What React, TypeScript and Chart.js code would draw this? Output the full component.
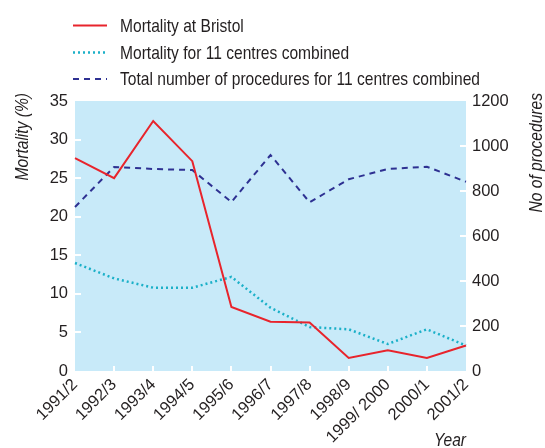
import React, { useEffect, useRef } from "react";
import { Chart, registerables } from "chart.js";

Chart.register(...registerables);

const years = ["1991/2", "1992/3", "1993/4", "1994/5", "1995/6", "1996/7", "1997/8", "1998/9", "1999/ 2000", "2000/1", "2001/2"];
const bristolMortality = [27.6, 25.0, 32.4, 27.2, 8.3, 6.4, 6.3, 1.7, 2.7, 1.7, 3.3];
const combinedMortality = [14.0, 12.0, 10.8, 10.8, 12.2, 8.2, 5.7, 5.4, 3.5, 5.4, 3.3];
const combinedProcedures = [729, 907, 898, 893, 751, 960, 750, 852, 898, 908, 841];
const mortalityTicks = [5, 10, 15, 20, 25, 30];
const procedureTicks = [200, 400, 600, 800, 1000];

const legendLabels = [
  "Mortality at Bristol",
  "Mortality for 11 centres combined",
  "Total number of procedures for 11 centres combined",
];

const FONT = '"Liberation Sans", Arial, Helvetica, sans-serif';
const TEXT = "#231f20";
const RED = "#e8242c";
const CYAN = "#1bb0c8";
const NAVY = "#2e3192";
const BG = "#c8eaf9";
const CONDENSE = 0.82;

function narrowText(ctx: CanvasRenderingContext2D, text: string, x: number, y: number, angle: number, align: CanvasTextAlign) {
  ctx.save();
  ctx.translate(x, y);
  ctx.rotate(angle);
  ctx.scale(CONDENSE, 1);
  ctx.textAlign = align;
  ctx.fillText(text, 0, 0);
  ctx.restore();
}

const decor = {
  id: "decor",
  beforeDraw(chart: any) {
    const { ctx, chartArea: a } = chart;
    ctx.save();
    ctx.fillStyle = BG;
    ctx.fillRect(a.left, a.top, a.right - a.left, a.bottom - a.top);
    ctx.restore();
  },
  beforeDatasetsDraw(chart: any) {
    const { ctx, chartArea: a, scales } = chart;
    ctx.save();
    ctx.strokeStyle = "#ffffff";
    ctx.lineWidth = 2;
    mortalityTicks.forEach((v) => {
      const y = Math.round(scales.y.getPixelForValue(v));
      ctx.beginPath();
      ctx.moveTo(a.left, y);
      ctx.lineTo(a.left + 6, y);
      ctx.stroke();
    });
    procedureTicks.forEach((v) => {
      const y = Math.round(scales.y1.getPixelForValue(v));
      ctx.beginPath();
      ctx.moveTo(a.right - 6, y);
      ctx.lineTo(a.right, y);
      ctx.stroke();
    });
    years.forEach((_, i) => {
      if (i === 0 || i === years.length - 1) return;
      const x = Math.round(scales.x.getPixelForValue(i));
      ctx.beginPath();
      ctx.moveTo(x, a.bottom - 5);
      ctx.lineTo(x, a.bottom);
      ctx.stroke();
    });
    ctx.restore();
  },
  afterDraw(chart: any) {
    const { ctx, chartArea: a } = chart;
    ctx.save();
    const styles = [
      { color: RED, dash: [] as number[], width: 2 },
      { color: CYAN, dash: [2, 3], width: 2.5 },
      { color: NAVY, dash: [6, 5], width: 2 },
    ];
    const rowsY = [25.5, 52.5, 79];
    ctx.font = `19px ${FONT}`;
    ctx.textBaseline = "middle";
    legendLabels.forEach((label, i) => {
      const s = styles[i];
      ctx.strokeStyle = s.color;
      ctx.lineWidth = s.width;
      ctx.setLineDash(s.dash);
      ctx.beginPath();
      ctx.moveTo(73, rowsY[i]);
      ctx.lineTo(107, rowsY[i]);
      ctx.stroke();
      ctx.setLineDash([]);
      ctx.fillStyle = TEXT;
      narrowText(ctx, label, 120, rowsY[i] + 1, 0, "left");
    });
    ctx.font = `italic 19px ${FONT}`;
    ctx.fillStyle = TEXT;
    ctx.textBaseline = "middle";
    narrowText(ctx, "Mortality (%)", 23, 93, -Math.PI / 2, "right");
    narrowText(ctx, "No of procedures", 537, 93, -Math.PI / 2, "right");
    ctx.textBaseline = "top";
    narrowText(ctx, "Year", a.right, 431, 0, "right");
    ctx.restore();
  },
};

export default function App() {
  const ref = useRef<HTMLCanvasElement>(null);
  useEffect(() => {
    const tickFont = { family: FONT, size: 16.5 };
    const chart = new Chart(ref.current as HTMLCanvasElement, {
      type: "line",
      data: {
        labels: years,
        datasets: [
          {
            label: legendLabels[0],
            data: bristolMortality,
            yAxisID: "y",
            borderColor: RED,
            borderWidth: 2,
            pointRadius: 0,
            tension: 0,
            fill: false,
          },
          {
            label: legendLabels[1],
            data: combinedMortality,
            yAxisID: "y",
            borderColor: CYAN,
            borderWidth: 2.5,
            borderDash: [2, 3],
            pointRadius: 0,
            tension: 0,
            fill: false,
          },
          {
            label: legendLabels[2],
            data: combinedProcedures,
            yAxisID: "y1",
            borderColor: NAVY,
            borderWidth: 2,
            borderDash: [6, 5],
            pointRadius: 0,
            tension: 0,
            fill: false,
          },
        ],
      },
      options: {
        responsive: false,
        animation: false,
        layout: { padding: { top: 101, left: 0, right: 0, bottom: 0 } },
        plugins: { legend: { display: false }, tooltip: { enabled: false } },
        scales: {
          x: {
            type: "category",
            offset: false,
            grid: { display: false, drawTicks: false },
            border: { display: false },
            ticks: {
              autoSkip: false,
              maxRotation: 45,
              minRotation: 45,
              padding: 4,
              color: TEXT,
              font: tickFont,
            },
            afterFit: (s: any) => {
              s.height = 77;
            },
          },
          y: {
            position: "left",
            min: 0,
            max: 35,
            grid: { display: false, drawTicks: false },
            border: { display: false },
            ticks: { stepSize: 5, padding: 7, color: TEXT, font: tickFont, callback: (v: any) => String(v) },
            afterFit: (s: any) => {
              s.width = 75;
            },
          },
          y1: {
            position: "right",
            min: 0,
            max: 1200,
            grid: { display: false, drawTicks: false },
            border: { display: false },
            ticks: { stepSize: 200, padding: 6, color: TEXT, font: tickFont, callback: (v: any) => String(v) },
            afterFit: (s: any) => {
              s.width = 79;
            },
          },
        },
      },
      plugins: [decor],
    });
    return () => chart.destroy();
  }, []);
  return (
    <div style={{ position: "fixed", left: 0, top: 0, width: 545, height: 448, background: "#ffffff" }}>
      <canvas ref={ref} width={545} height={448} style={{ display: "block", width: 545, height: 448 }} />
    </div>
  );
}
